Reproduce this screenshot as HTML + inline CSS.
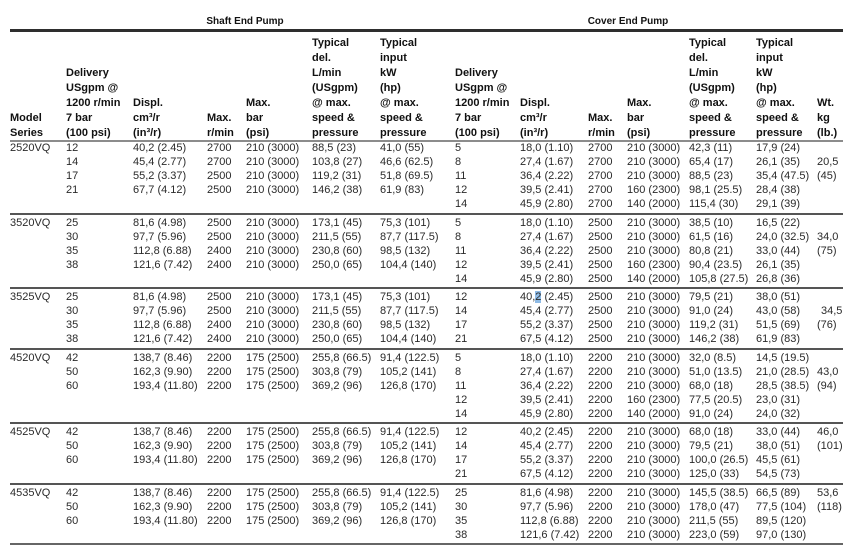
<!DOCTYPE html>
<html>
<head>
<meta charset="utf-8">
<style>
html,body{margin:0;padding:0;}
body{width:850px;height:549px;background:#fff;position:relative;overflow:hidden;font-family:"Liberation Sans",Arial,sans-serif;}
.h{position:absolute;font-weight:bold;font-size:11px;line-height:15px;color:#111;white-space:nowrap;}
.t{position:absolute;font-weight:bold;font-size:10px;line-height:12px;color:#111;white-space:nowrap;text-align:center;width:160px;}
.c{position:absolute;font-size:11px;line-height:13.9px;color:#2a2a2a;white-space:nowrap;}
.l{position:absolute;left:10px;width:833px;}
.hl{background:#8fbbe6;}
</style>
</head>
<body>
<!-- titles -->
<div class="t" style="left:165px;top:16px;">Shaft End Pump</div>
<div class="t" style="left:548px;top:16px;">Cover End Pump</div>

<!-- lines -->
<div class="l" style="top:29px;height:3px;background:#2e2e2e;"></div>
<div class="l" style="top:140px;height:2px;background:#8c8c8c;"></div>
<div class="l" style="top:213px;height:2px;background:#555;"></div>
<div class="l" style="top:287px;height:2px;background:#555;"></div>
<div class="l" style="top:348px;height:2px;background:#555;"></div>
<div class="l" style="top:422px;height:2px;background:#555;"></div>
<div class="l" style="top:483px;height:2px;background:#555;"></div>
<div class="l" style="top:543px;height:2px;background:#666;"></div>

<!-- headers shaft -->
<div class="h" style="left:10px;top:111px;">Model<br>Series</div>
<div class="h" style="left:66px;top:66px;">Delivery<br>USgpm @<br>1200 r/min<br>7 bar<br>(100 psi)</div>
<div class="h" style="left:133px;top:96px;">Displ.<br>cm³/r<br>(in³/r)</div>
<div class="h" style="left:207px;top:111px;">Max.<br>r/min</div>
<div class="h" style="left:246px;top:96px;">Max.<br>bar<br>(psi)</div>
<div class="h" style="left:312px;top:36px;">Typical<br>del.<br>L/min<br>(USgpm)<br>@ max.<br>speed &amp;<br>pressure</div>
<div class="h" style="left:380px;top:36px;">Typical<br>input<br>kW<br>(hp)<br>@ max.<br>speed &amp;<br>pressure</div>
<!-- headers cover -->
<div class="h" style="left:455px;top:66px;">Delivery<br>USgpm @<br>1200 r/min<br>7 bar<br>(100 psi)</div>
<div class="h" style="left:520px;top:96px;">Displ.<br>cm³/r<br>(in³/r)</div>
<div class="h" style="left:588px;top:111px;">Max.<br>r/min</div>
<div class="h" style="left:627px;top:96px;">Max.<br>bar<br>(psi)</div>
<div class="h" style="left:689px;top:36px;">Typical<br>del.<br>L/min<br>(USgpm)<br>@ max.<br>speed &amp;<br>pressure</div>
<div class="h" style="left:756px;top:36px;">Typical<br>input<br>kW<br>(hp)<br>@ max.<br>speed &amp;<br>pressure</div>
<div class="h" style="left:817px;top:96px;">Wt.<br>kg<br>(lb.)</div>

<!-- Group 1: 2520VQ -->
<div class="c" style="left:10px;top:142.2px;">2520VQ</div>
<div class="c" style="left:66px;top:142.2px;">12<br>14<br>17<br>21</div>
<div class="c" style="left:133px;top:142.2px;">40,2 (2.45)<br>45,4 (2.77)<br>55,2 (3.37)<br>67,7 (4.12)</div>
<div class="c" style="left:207px;top:142.2px;">2700<br>2700<br>2500<br>2500</div>
<div class="c" style="left:246px;top:142.2px;">210 (3000)<br>210 (3000)<br>210 (3000)<br>210 (3000)</div>
<div class="c" style="left:312px;top:142.2px;">88,5 (23)<br>103,8 (27)<br>119,2 (31)<br>146,2 (38)</div>
<div class="c" style="left:380px;top:142.2px;">41,0 (55)<br>46,6 (62.5)<br>51,8 (69.5)<br>61,9 (83)</div>
<div class="c" style="left:455px;top:142.2px;">5<br>8<br>11<br>12<br>14</div>
<div class="c" style="left:520px;top:142.2px;">18,0 (1.10)<br>27,4 (1.67)<br>36,4 (2.22)<br>39,5 (2.41)<br>45,9 (2.80)</div>
<div class="c" style="left:588px;top:142.2px;">2700<br>2700<br>2700<br>2700<br>2700</div>
<div class="c" style="left:627px;top:142.2px;">210 (3000)<br>210 (3000)<br>210 (3000)<br>160 (2300)<br>140 (2000)</div>
<div class="c" style="left:689px;top:142.2px;">42,3 (11)<br>65,4 (17)<br>88,5 (23)<br>98,1 (25.5)<br>115,4 (30)</div>
<div class="c" style="left:756px;top:142.2px;">17,9 (24)<br>26,1 (35)<br>35,4 (47.5)<br>28,4 (38)<br>29,1 (39)</div>
<div class="c" style="left:817px;top:142.2px;">&nbsp;<br>20,5<br>(45)</div>

<!-- Group 2: 3520VQ -->
<div class="c" style="left:10px;top:217.2px;">3520VQ</div>
<div class="c" style="left:66px;top:217.2px;">25<br>30<br>35<br>38</div>
<div class="c" style="left:133px;top:217.2px;">81,6 (4.98)<br>97,7 (5.96)<br>112,8 (6.88)<br>121,6 (7.42)</div>
<div class="c" style="left:207px;top:217.2px;">2500<br>2500<br>2400<br>2400</div>
<div class="c" style="left:246px;top:217.2px;">210 (3000)<br>210 (3000)<br>210 (3000)<br>210 (3000)</div>
<div class="c" style="left:312px;top:217.2px;">173,1 (45)<br>211,5 (55)<br>230,8 (60)<br>250,0 (65)</div>
<div class="c" style="left:380px;top:217.2px;">75,3 (101)<br>87,7 (117.5)<br>98,5 (132)<br>104,4 (140)</div>
<div class="c" style="left:455px;top:217.2px;">5<br>8<br>11<br>12<br>14</div>
<div class="c" style="left:520px;top:217.2px;">18,0 (1.10)<br>27,4 (1.67)<br>36,4 (2.22)<br>39,5 (2.41)<br>45,9 (2.80)</div>
<div class="c" style="left:588px;top:217.2px;">2500<br>2500<br>2500<br>2500<br>2500</div>
<div class="c" style="left:627px;top:217.2px;">210 (3000)<br>210 (3000)<br>210 (3000)<br>160 (2300)<br>140 (2000)</div>
<div class="c" style="left:689px;top:217.2px;">38,5 (10)<br>61,5 (16)<br>80,8 (21)<br>90,4 (23.5)<br>105,8 (27.5)</div>
<div class="c" style="left:756px;top:217.2px;">16,5 (22)<br>24,0 (32.5)<br>33,0 (44)<br>26,1 (35)<br>26,8 (36)</div>
<div class="c" style="left:817px;top:217.2px;">&nbsp;<br>34,0<br>(75)</div>

<!-- Group 3: 3525VQ -->
<div class="c" style="left:10px;top:291.2px;">3525VQ</div>
<div class="c" style="left:66px;top:291.2px;">25<br>30<br>35<br>38</div>
<div class="c" style="left:133px;top:291.2px;">81,6 (4.98)<br>97,7 (5.96)<br>112,8 (6.88)<br>121,6 (7.42)</div>
<div class="c" style="left:207px;top:291.2px;">2500<br>2500<br>2400<br>2400</div>
<div class="c" style="left:246px;top:291.2px;">210 (3000)<br>210 (3000)<br>210 (3000)<br>210 (3000)</div>
<div class="c" style="left:312px;top:291.2px;">173,1 (45)<br>211,5 (55)<br>230,8 (60)<br>250,0 (65)</div>
<div class="c" style="left:380px;top:291.2px;">75,3 (101)<br>87,7 (117.5)<br>98,5 (132)<br>104,4 (140)</div>
<div class="c" style="left:455px;top:291.2px;">12<br>14<br>17<br>21</div>
<div class="c" style="left:520px;top:291.2px;">40,<span class="hl">2</span> (2.45)<br>45,4 (2.77)<br>55,2 (3.37)<br>67,5 (4.12)</div>
<div class="c" style="left:588px;top:291.2px;">2500<br>2500<br>2500<br>2500</div>
<div class="c" style="left:627px;top:291.2px;">210 (3000)<br>210 (3000)<br>210 (3000)<br>210 (3000)</div>
<div class="c" style="left:689px;top:291.2px;">79,5 (21)<br>91,0 (24)<br>119,2 (31)<br>146,2 (38)</div>
<div class="c" style="left:756px;top:291.2px;">38,0 (51)<br>43,0 (58)<br>51,5 (69)<br>61,9 (83)</div>
<div class="c" style="left:817px;top:291.2px;">&nbsp;<br><span style="margin-left:4px">34,5</span><br>(76)</div>

<!-- Group 4: 4520VQ -->
<div class="c" style="left:10px;top:352.2px;">4520VQ</div>
<div class="c" style="left:66px;top:352.2px;">42<br>50<br>60</div>
<div class="c" style="left:133px;top:352.2px;">138,7 (8.46)<br>162,3 (9.90)<br>193,4 (11.80)</div>
<div class="c" style="left:207px;top:352.2px;">2200<br>2200<br>2200</div>
<div class="c" style="left:246px;top:352.2px;">175 (2500)<br>175 (2500)<br>175 (2500)</div>
<div class="c" style="left:312px;top:352.2px;">255,8 (66.5)<br>303,8 (79)<br>369,2 (96)</div>
<div class="c" style="left:380px;top:352.2px;">91,4 (122.5)<br>105,2 (141)<br>126,8 (170)</div>
<div class="c" style="left:455px;top:352.2px;">5<br>8<br>11<br>12<br>14</div>
<div class="c" style="left:520px;top:352.2px;">18,0 (1.10)<br>27,4 (1.67)<br>36,4 (2.22)<br>39,5 (2.41)<br>45,9 (2.80)</div>
<div class="c" style="left:588px;top:352.2px;">2200<br>2200<br>2200<br>2200<br>2200</div>
<div class="c" style="left:627px;top:352.2px;">210 (3000)<br>210 (3000)<br>210 (3000)<br>160 (2300)<br>140 (2000)</div>
<div class="c" style="left:689px;top:352.2px;">32,0 (8.5)<br>51,0 (13.5)<br>68,0 (18)<br>77,5 (20.5)<br>91,0 (24)</div>
<div class="c" style="left:756px;top:352.2px;">14,5 (19.5)<br>21,0 (28.5)<br>28,5 (38.5)<br>23,0 (31)<br>24,0 (32)</div>
<div class="c" style="left:817px;top:352.2px;">&nbsp;<br>43,0<br>(94)</div>

<!-- Group 5: 4525VQ -->
<div class="c" style="left:10px;top:426.2px;">4525VQ</div>
<div class="c" style="left:66px;top:426.2px;">42<br>50<br>60</div>
<div class="c" style="left:133px;top:426.2px;">138,7 (8.46)<br>162,3 (9.90)<br>193,4 (11.80)</div>
<div class="c" style="left:207px;top:426.2px;">2200<br>2200<br>2200</div>
<div class="c" style="left:246px;top:426.2px;">175 (2500)<br>175 (2500)<br>175 (2500)</div>
<div class="c" style="left:312px;top:426.2px;">255,8 (66.5)<br>303,8 (79)<br>369,2 (96)</div>
<div class="c" style="left:380px;top:426.2px;">91,4 (122.5)<br>105,2 (141)<br>126,8 (170)</div>
<div class="c" style="left:455px;top:426.2px;">12<br>14<br>17<br>21</div>
<div class="c" style="left:520px;top:426.2px;">40,2 (2.45)<br>45,4 (2.77)<br>55,2 (3.37)<br>67,5 (4.12)</div>
<div class="c" style="left:588px;top:426.2px;">2200<br>2200<br>2200<br>2200</div>
<div class="c" style="left:627px;top:426.2px;">210 (3000)<br>210 (3000)<br>210 (3000)<br>210 (3000)</div>
<div class="c" style="left:689px;top:426.2px;">68,0 (18)<br>79,5 (21)<br>100,0 (26.5)<br>125,0 (33)</div>
<div class="c" style="left:756px;top:426.2px;">33,0 (44)<br>38,0 (51)<br>45,5 (61)<br>54,5 (73)</div>
<div class="c" style="left:817px;top:426.2px;">46,0<br>(101)</div>

<!-- Group 6: 4535VQ -->
<div class="c" style="left:10px;top:487.2px;">4535VQ</div>
<div class="c" style="left:66px;top:487.2px;">42<br>50<br>60</div>
<div class="c" style="left:133px;top:487.2px;">138,7 (8.46)<br>162,3 (9.90)<br>193,4 (11.80)</div>
<div class="c" style="left:207px;top:487.2px;">2200<br>2200<br>2200</div>
<div class="c" style="left:246px;top:487.2px;">175 (2500)<br>175 (2500)<br>175 (2500)</div>
<div class="c" style="left:312px;top:487.2px;">255,8 (66.5)<br>303,8 (79)<br>369,2 (96)</div>
<div class="c" style="left:380px;top:487.2px;">91,4 (122.5)<br>105,2 (141)<br>126,8 (170)</div>
<div class="c" style="left:455px;top:487.2px;">25<br>30<br>35<br>38</div>
<div class="c" style="left:520px;top:487.2px;">81,6 (4.98)<br>97,7 (5.96)<br>112,8 (6.88)<br>121,6 (7.42)</div>
<div class="c" style="left:588px;top:487.2px;">2200<br>2200<br>2200<br>2200</div>
<div class="c" style="left:627px;top:487.2px;">210 (3000)<br>210 (3000)<br>210 (3000)<br>210 (3000)</div>
<div class="c" style="left:689px;top:487.2px;">145,5 (38.5)<br>178,0 (47)<br>211,5 (55)<br>223,0 (59)</div>
<div class="c" style="left:756px;top:487.2px;">66,5 (89)<br>77,5 (104)<br>89,5 (120)<br>97,0 (130)</div>
<div class="c" style="left:817px;top:487.2px;">53,6<br>(118)</div>
</body>
</html>
